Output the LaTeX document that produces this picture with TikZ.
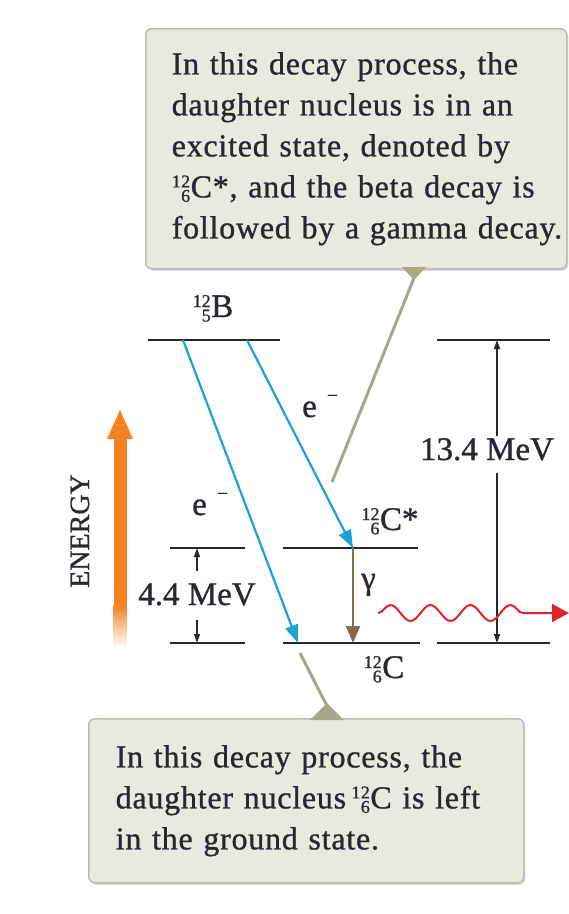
\documentclass[tikz,border=0pt]{standalone}
\usepackage{fontspec}
\setmainfont{Liberation Serif}[FakeBold=0.9]
\newfontfamily\boxfont{Liberation Serif}[FakeBold=0.9, LetterSpace=2.4]
\usetikzlibrary{arrows.meta,shadows,decorations.pathmorphing}
\definecolor{boxfill}{RGB}{233,233,224}
\definecolor{boxline}{RGB}{188,188,176}
\definecolor{ptr}{RGB}{168,166,140}
\definecolor{eblue}{RGB}{30,160,210}
\definecolor{ebrown}{RGB}{140,105,70}
\definecolor{ered}{RGB}{225,35,45}
\definecolor{eorange}{RGB}{243,130,35}
\definecolor{lvl}{RGB}{40,40,40}
\definecolor{txt}{RGB}{40,40,48}
\newcommand\nuc[3]{\mbox{\fontsize{18}{18}\selectfont\ooalign{\hfil\raisebox{10pt}{#1}\cr\hfil\raisebox{-4.5pt}{#2}\cr}}\kern0.5pt#3}
\begin{document}
\begin{tikzpicture}[x=1pt,y=-1pt,
  callout/.style={draw=boxline, line width=1.5pt, fill=boxfill, rounded corners=6pt,
    drop shadow={shadow xshift=1.5pt, shadow yshift=-2pt, opacity=0.3},
    align=left, inner ysep=0pt, text=txt, font=\boxfont\fontsize{32}{41}\selectfont},
  lab/.style={inner sep=2pt, text=txt, font=\fontsize{33}{38}\selectfont},
  level/.style={draw=lvl, line width=2.6pt},
  beta/.style={draw=eblue, line width=2.2pt, -{Triangle[length=18pt,width=13pt]}},
  gam/.style={draw=ebrown, line width=2.2pt, -{Triangle[length=17pt,width=14pt]}},
  dim/.style={draw=lvl, line width=1.5pt, -{Triangle[length=9pt,width=6pt]}},
  ptrline/.style={draw=ptr, line width=3pt},
  wave/.style={draw=ered, line width=2pt, -{Triangle[length=17pt,width=18pt]},
    decorate, decoration={snake, segment length=40pt, amplitude=8pt, post length=34pt}}
]
\useasboundingbox (0,0) rectangle (569,914);

% callouts
\node[callout, anchor=north west, minimum width=421pt, minimum height=240pt,
  text width=369pt, inner xsep=26pt] (topbox) at (145,28)
  {\mbox{In this decay process, the}\\\mbox{daughter nucleus is in an}\\\mbox{excited state, denoted by}\\\mbox{\nuc{12}{6}{C*}, and the beta decay is}\\\mbox{followed by a gamma decay.}};
\node[callout, anchor=north west, minimum width=435pt, minimum height=164pt,
  text width=381pt, inner xsep=27pt] (botbox) at (88,718)
  {In this decay process, the\\daughter nucleus\,\nuc{12}{6}{C} is left\\in the ground state.};

% energy levels
\coordinate (B1) at (148,340); \coordinate (B2) at (280,340);
\coordinate (R1) at (437,340); \coordinate (R2) at (550,340);
\coordinate (Cs1) at (283,548); \coordinate (Cs2) at (418,548);
\coordinate (L1) at (170,548); \coordinate (L2) at (245,548);
\coordinate (G1) at (283,643); \coordinate (G2) at (420,643);
\coordinate (LB1) at (170,643); \coordinate (LB2) at (245,643);
\coordinate (RB1) at (437,643); \coordinate (RB2) at (550,643);
\foreach \a/\b in {B1/B2,R1/R2,Cs1/Cs2,L1/L2,G1/G2,LB1/LB2,RB1/RB2}
  \draw[level] (\a) -- (\b);

% pointers
\coordinate (tpTip) at (414,278); \coordinate (tpEnd) at (332,482);
\fill[ptr] (402,267) -- (426,267) -- (414,280) -- cycle;
\draw[ptrline] (tpTip) -- (tpEnd);
\coordinate (bpTip) at (327,706); \coordinate (bpEnd) at (300,653);
\fill[ptr] (310,720) -- (344,720) -- (327,703) -- cycle;
\draw[ptrline] (bpTip) -- (bpEnd);

% labels
\node[lab, anchor=base] (lB) at (213,317) {\nuc{12}{5}{B}};
\node[lab, anchor=base] (lCs) at (390,530) {\nuc{12}{6}{C*}};
\node[lab, anchor=base] (lC) at (384,678) {\nuc{12}{6}{C}};
\node[lab, anchor=base west, inner sep=0pt] (e1) at (302,417) {e\hspace{10pt}\raisebox{15pt}{\fontsize{20}{20}\selectfont −}};
\node[lab, anchor=base west, inner sep=0pt] (e2) at (192,515) {e\hspace{10pt}\raisebox{15pt}{\fontsize{20}{20}\selectfont −}};
\node[lab, anchor=base west, inner sep=0pt] (g) at (361,589) {γ};
\node[lab, anchor=base] (mev13) at (487,460) {13.4 MeV};
\node[lab, anchor=base] (mev4) at (197,605) {4.4 MeV};
\node[lab, anchor=base, rotate=90, font=\fontsize{28}{30}\selectfont] (energy) at (89,531) {ENERGY};

% transitions
\coordinate (bA) at (183,340); \coordinate (gA) at (298,643);
\coordinate (bB) at (247,340); \coordinate (cB) at (353,548);
\coordinate (gB) at (353,643);
\draw[beta] (bA) -- (gA);
\draw[beta] (bB) -- (cB);
\draw[gam] (cB) -- (gB);

% dimension arrows
\coordinate (t13) at (497,340); \coordinate (b13) at (497,643);
\draw[dim] (mev13.north -| t13) -- (t13);
\draw[dim, shorten <=10pt] (mev13.south -| b13) -- (b13);
\coordinate (t4) at (197,548); \coordinate (b4) at (197,643);
\draw[dim, shorten <=10pt] (mev4.north -| t4) -- (t4);
\draw[dim, shorten <=12pt] (mev4.south -| b4) -- (b4);

% gamma photon
\coordinate (w0) at (378,613); \coordinate (w1) at (569,613);
\draw[wave] (w0) -- (w1);

% energy arrow
\fill[eorange] (113.5,436) rectangle (126.5,606);
\shade[top color=eorange, bottom color=white] (113.5,605.5) rectangle (126.5,647);
\fill[eorange] (107,439) -- (120,410) -- (133,439) -- cycle;
\end{tikzpicture}
\end{document}
